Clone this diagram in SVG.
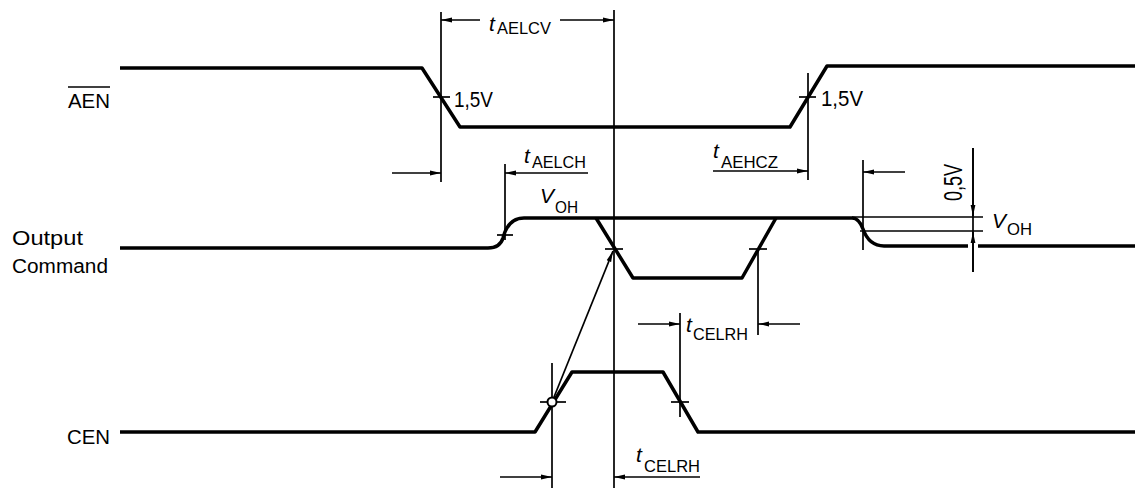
<svg xmlns="http://www.w3.org/2000/svg" width="1135" height="488" viewBox="0 0 1135 488">
<style>
.sig{fill:none;stroke:#000;stroke-width:3.5;stroke-linejoin:round}
.thin{fill:none;stroke:#000;stroke-width:1.7}
.dim{fill:none;stroke:#000;stroke-width:1.7;marker-end:url(#ah)}
text{font-family:"Liberation Sans",Arial,sans-serif;fill:#000}
.lbl{font-size:20px}
.t{font-size:21px;font-style:italic}
.sub{font-size:17px}
.v{font-size:22px}
</style>
<defs>
<marker id="ah" markerUnits="userSpaceOnUse" markerWidth="12" markerHeight="6" refX="11" refY="3" orient="auto">
<path d="M0,0.6 L11,3 L0,5.4 Z" fill="#000"/>
</marker>
</defs>
<rect width="1135" height="488" fill="#fff"/>

<g id="AEN">
<text class="lbl" x="68" y="108" textLength="42" lengthAdjust="spacingAndGlyphs">AEN</text>
<line class="thin" x1="68" y1="87" x2="110" y2="87"/>
<path class="sig" d="M120,68 L422,68 L460,127 L790,127 L827,66 L1135,66"/>
<line class="thin" x1="433" y1="97" x2="450" y2="97"/>
<line class="thin" x1="799" y1="97" x2="816" y2="97"/>
<text class="v" x="454" y="107" textLength="39" lengthAdjust="spacingAndGlyphs">1,5V</text>
<text class="v" x="821" y="106" textLength="42" lengthAdjust="spacingAndGlyphs">1,5V</text>
</g>

<g id="OutputCommand">
<text class="lbl" x="12" y="245" textLength="71" lengthAdjust="spacingAndGlyphs">Output</text>
<text class="lbl" x="12" y="273" textLength="96" lengthAdjust="spacingAndGlyphs">Command</text>
<path class="sig" d="M120,248 L488,248 Q500,248 503,238 Q508,218 524,218 L852,218 Q859,218 863,229 Q869,246 884,246 L968,246"/>
<line class="sig" x1="978" y1="246" x2="1135" y2="246"/>
<path class="sig" d="M596,218 L633,278 L742,278 L776,218"/>
<line class="thin" x1="852" y1="217" x2="983" y2="217"/>
<line class="thin" x1="860" y1="231" x2="983" y2="231"/>
<line class="thin" x1="497" y1="235" x2="513" y2="235"/>
<line class="thin" x1="605" y1="249" x2="623" y2="249"/>
<line class="thin" x1="749" y1="249" x2="767" y2="249"/>
<text class="t" x="540" y="203">V</text>
<text class="sub" x="555" y="213" textLength="23" lengthAdjust="spacingAndGlyphs">OH</text>
<text class="t" x="992" y="228">V</text>
<text class="sub" x="1007" y="235" textLength="25" lengthAdjust="spacingAndGlyphs">OH</text>
</g>

<g id="CEN">
<text class="lbl" x="67" y="444" textLength="43" lengthAdjust="spacingAndGlyphs">CEN</text>
<path class="sig" d="M120,432 L535,432 L572,372 L663,372 L698,432 L1135,432"/>
<line class="thin" x1="540" y1="402" x2="566" y2="402"/>
<line class="thin" x1="671" y1="402" x2="689" y2="402"/>
</g>

<g id="connectors">
<line class="thin" x1="614" y1="10" x2="614" y2="488"/>
<line class="thin" x1="441" y1="12" x2="441" y2="182"/>
<line class="thin" x1="505" y1="164" x2="505" y2="240"/>
<line class="thin" x1="808" y1="73" x2="808" y2="180"/>
<line class="thin" x1="863" y1="160" x2="863" y2="250"/>
<line class="thin" x1="973" y1="148" x2="973" y2="272"/>
<line class="thin" x1="758" y1="249" x2="758" y2="335"/>
<line class="thin" x1="680" y1="313" x2="680" y2="417"/>
<line class="thin" x1="552" y1="363" x2="552" y2="488"/>

<line class="dim" x1="480" y1="20" x2="441" y2="20"/>
<line class="dim" x1="560" y1="20" x2="614" y2="20"/>
<text class="t" x="489" y="31">t</text>
<text class="sub" x="497" y="34" textLength="54" lengthAdjust="spacingAndGlyphs">AELCV</text>

<line class="dim" x1="392" y1="173" x2="441" y2="173"/>
<line class="dim" x1="588" y1="173" x2="505" y2="173"/>
<text class="t" x="524" y="163">t</text>
<text class="sub" x="532" y="168" textLength="54" lengthAdjust="spacingAndGlyphs">AELCH</text>

<line class="dim" x1="713" y1="171" x2="808" y2="171"/>
<text class="t" x="713" y="158">t</text>
<text class="sub" x="721" y="168" textLength="57" lengthAdjust="spacingAndGlyphs">AEHCZ</text>

<line class="dim" x1="905" y1="172" x2="863" y2="172"/>
<line class="dim" x1="973" y1="148" x2="973" y2="216"/>
<line class="dim" x1="973" y1="272" x2="973" y2="232"/>
<text transform="translate(962,201) rotate(-90)" x="0" y="0" font-size="25" textLength="37" lengthAdjust="spacingAndGlyphs">0,5V</text>

<line class="dim" x1="638" y1="324" x2="680" y2="324"/>
<line class="dim" x1="800" y1="324" x2="758" y2="324"/>
<text class="t" x="686" y="332">t</text>
<text class="sub" x="693" y="340" textLength="55" lengthAdjust="spacingAndGlyphs">CELRH</text>

<line class="dim" x1="500" y1="477" x2="552" y2="477"/>
<line class="dim" x1="700" y1="477" x2="614" y2="477"/>
<text class="t" x="636" y="462">t</text>
<text class="sub" x="644" y="472" textLength="56" lengthAdjust="spacingAndGlyphs">CELRH</text>

<line class="dim" x1="552" y1="402" x2="613" y2="251"/>
<circle cx="552" cy="402" r="4.5" fill="#fff" stroke="#000" stroke-width="2"/>
</g>
</svg>
